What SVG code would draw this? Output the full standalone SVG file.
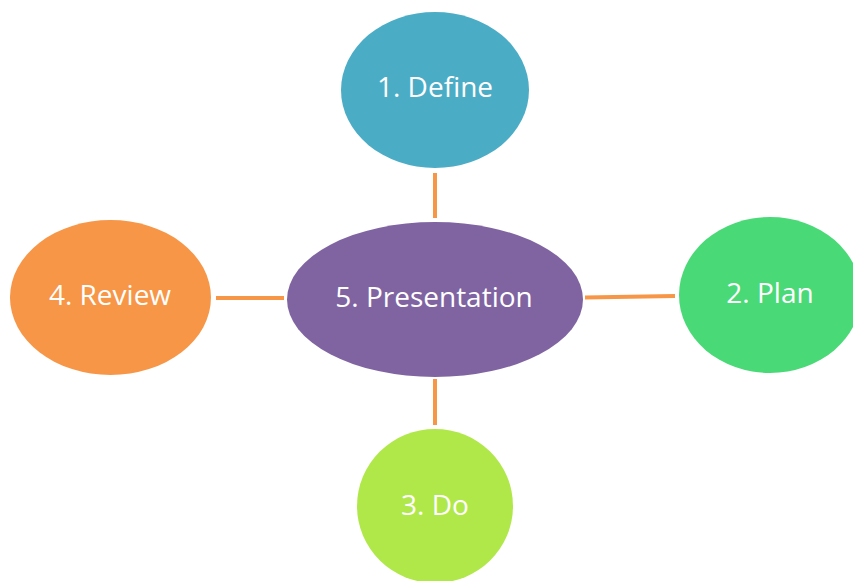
<svg xmlns="http://www.w3.org/2000/svg" width="853" height="581" viewBox="0 0 853 581">
<style>
.lbl{font-family:"Open Sans","Noto Sans","Liberation Sans",sans-serif;font-size:28px;fill:#ffffff;text-anchor:middle}
.con{stroke:#F79646;stroke-width:4;fill:none}
</style>
<rect width="853" height="581" fill="#ffffff"/>
<g id="connectors">
<line class="con" x1="435" y1="173" x2="435" y2="218"/>
<line class="con" x1="216" y1="298" x2="284" y2="298"/>
<line class="con" x1="585" y1="297.5" x2="675" y2="296"/>
<line class="con" x1="435" y1="379" x2="435" y2="425"/>
</g>
<g id="n1">
<ellipse cx="435" cy="90" rx="94" ry="78" fill="#4BACC6"/>
<text class="lbl" x="435" y="97">1. Define</text>
</g>
<g id="n5">
<ellipse cx="435" cy="299.5" rx="148" ry="77.5" fill="#8064A2"/>
<text class="lbl" x="434" y="307">5. Presentation</text>
</g>
<g id="n4">
<ellipse cx="110.5" cy="297.5" rx="100.5" ry="77.5" fill="#F79646"/>
<text class="lbl" x="110" y="305">4. Review</text>
</g>
<g id="n2">
<ellipse cx="770" cy="295" rx="91" ry="78" fill="#4AD977"/>
<text class="lbl" x="770" y="303">2. Plan</text>
</g>
<g id="n3">
<ellipse cx="435" cy="506" rx="78" ry="77" fill="#B0E84A"/>
<text class="lbl" x="435" y="515">3. Do</text>
</g>
</svg>
